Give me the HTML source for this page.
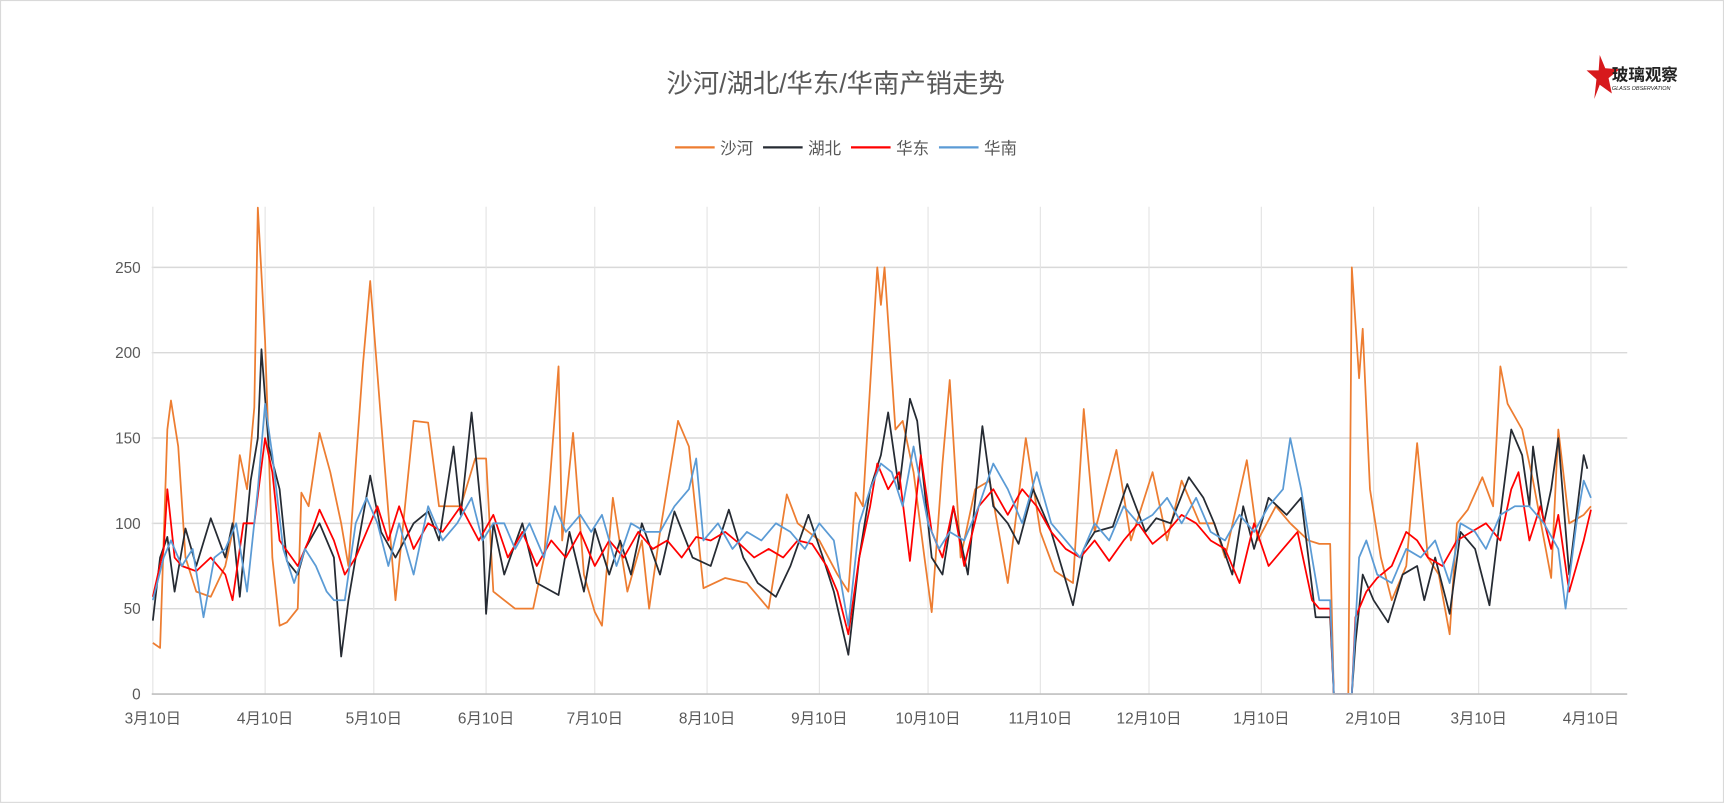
<!DOCTYPE html>
<html><head><meta charset="utf-8">
<style>
html,body{margin:0;padding:0;background:#fff;}
svg{display:block;}
text{font-family:"Liberation Sans","Noto Sans CJK SC",sans-serif;}
</style></head>
<body>
<svg id="chart" width="1724" height="804" viewBox="0 0 1568 731" preserveAspectRatio="none" xmlns="http://www.w3.org/2000/svg">
<rect x="0.5" y="0.5" width="1567" height="729" fill="#fff" stroke="#d9d9d9"/>
<text x="760" y="84" text-anchor="middle" font-size="24" fill="#595959">沙河/湖北/华东/华南产销走势</text>
<g>
<polygon points="1455,50 1460,62 1473,63 1463,71 1466,85 1455,77 1450,90 1452,72 1443,64 1454,64" fill="#d7191c"/>
<text x="1466" y="73" font-size="15" font-weight="bold" fill="#222">玻璃观察</text>
<text x="1466" y="82" font-size="5" font-style="italic" fill="#222">GLASS OBSERVATION</text>
</g>
<g id="legend"></g>
<g id="grid"></g>
<g id="series"></g>
<g id="axes"></g>
</svg>
<script>
const yTicks=[0,50,100,150,200,250];
const xTickLabels=['3月10日','4月10日','5月10日','6月10日','7月10日','8月10日','9月10日','10月10日','11月10日','12月10日','1月10日','2月10日','3月10日','4月10日'];
const xTickDays=[0,31,61,92,122,153,184,214,245,275,306,337,366,397];
const seriesNames=['沙河','湖北','华东','华南'];
const seriesColors=['#ed7d31','#262b33','#ff0000','#5b9bd5'];
const shaheDays=[0,2,4,5,7,9,12,16,20,22,24,26,28,29,31,33,35,37,40,41,43,46,49,52,54,58,60,63,66,67,72,76,79,85,89,92,94,97,100,105,108,112,113,116,119,122,124,127,131,135,137,140,145,148,152,158,164,170,175,178,184,189,192,194,196,200,201,202,205,207,210,213,215,218,220,223,227,231,236,241,245,249,254,257,260,266,270,276,280,284,289,293,296,302,305,310,314,319,322,325,326,330,331,333,334,336,339,342,346,349,352,355,358,360,363,367,370,372,374,378,381,386,388,391,395,397];
const shaheValues=[30,27,155,172,145,80,60,57,75,95,140,120,168,285,207,80,40,42,50,118,110,153,130,100,75,193,242,160,80,55,160,159,110,110,138,138,60,55,50,50,80,192,90,153,70,48,40,115,60,90,50,95,160,145,62,68,65,50,117,100,90,70,60,118,110,250,228,250,155,160,130,80,48,135,184,80,120,125,65,150,95,72,65,167,95,143,90,130,90,125,100,100,80,137,90,110,100,90,88,88,0,0,250,185,214,120,80,55,75,147,80,70,35,100,108,127,110,192,170,155,125,68,155,100,105,110];
const hubeiDays=[0,2,4,6,9,12,16,20,22,24,27,29,30,32,35,37,40,42,46,50,52,54,56,60,63,67,72,76,79,83,85,88,91,92,94,97,102,106,112,115,119,122,126,129,132,135,140,144,149,154,159,163,167,172,176,181,185,188,192,195,198,201,203,206,209,211,215,218,221,225,229,232,236,239,243,248,254,257,260,265,269,274,277,281,286,290,293,298,301,304,308,313,317,319,321,325,326,331,332,334,337,341,345,349,351,354,358,361,365,369,372,375,378,380,381,384,386,388,391,395,396];
const hubeiValues=[43,80,92,60,97,75,103,80,100,57,125,150,202,145,120,78,70,85,100,80,22,55,80,128,95,80,100,107,90,145,105,165,100,47,100,70,100,65,58,95,60,97,70,90,70,100,70,107,80,75,108,80,65,57,75,105,80,60,23,80,120,140,165,120,173,160,80,70,110,70,157,110,100,88,120,95,52,85,95,98,123,95,103,100,127,115,100,70,110,85,115,105,115,80,45,45,0,0,30,70,55,42,70,75,55,80,47,95,85,52,105,155,140,110,145,100,120,150,70,140,132];
const huadongDays=[0,3,4,6,8,12,16,20,22,25,28,31,33,35,40,43,46,50,53,56,60,62,65,68,72,76,80,85,90,94,98,102,106,110,114,118,122,126,130,134,138,142,146,150,154,158,162,166,170,174,178,182,186,189,192,195,198,200,203,206,209,212,215,218,221,224,228,232,236,240,244,248,252,256,260,264,268,272,276,280,284,288,292,296,300,304,308,312,316,320,322,325,326,331,332,335,338,342,346,349,352,356,360,364,368,372,375,377,380,383,386,388,391,395,397];
const huadongValues=[57,85,120,80,75,72,80,70,55,100,100,150,130,90,75,90,108,90,70,80,100,110,90,110,85,100,95,110,90,105,80,95,75,90,80,95,75,90,80,95,85,90,80,92,90,95,88,80,85,80,90,88,75,60,35,80,110,135,120,130,78,140,95,80,110,75,110,120,105,120,110,95,85,80,90,78,90,100,88,95,105,100,90,85,65,100,75,85,95,55,50,50,0,0,45,60,68,75,95,90,80,75,90,95,100,90,120,130,90,110,85,105,60,90,108];
const huananDays=[0,3,5,8,11,14,17,20,23,26,29,31,33,36,39,42,45,48,50,53,56,59,62,65,68,72,76,80,84,88,91,94,97,100,104,108,111,114,118,121,124,128,132,136,140,144,148,150,152,156,160,164,168,172,176,180,184,188,192,195,198,201,204,207,210,214,217,220,224,228,232,236,240,244,248,252,256,260,264,268,272,276,280,284,288,292,296,300,304,308,312,314,317,320,322,325,326,331,333,335,338,342,346,350,354,358,361,365,368,372,376,380,384,388,390,393,395,397];
const huananValues=[55,80,90,75,85,45,80,85,100,60,120,170,140,85,65,85,75,60,55,55,100,115,100,75,100,70,110,90,100,115,90,100,100,85,100,80,110,95,105,95,105,75,100,95,95,110,120,138,90,100,85,95,90,100,95,85,100,90,40,100,120,135,130,110,145,100,85,95,90,110,135,120,100,130,100,90,80,100,90,110,100,105,115,100,115,95,90,105,95,110,120,150,120,80,55,55,0,0,80,90,70,65,85,80,90,65,100,95,85,105,110,110,100,85,50,100,125,115];

const NS='http://www.w3.org/2000/svg';
const L=138,R=1480,T=188,B=631,YMAX=285.5,DAYS=397,X0=139,X1=1447;
const xs=d=>X0+(X1-X0)*d/DAYS;
const ys=v=>B-(B-T)*v/YMAX;
function mk(tag,attrs,parent){const e=document.createElementNS(NS,tag);for(const k in attrs)e.setAttribute(k,attrs[k]);parent.appendChild(e);return e;}
const grid=document.getElementById('grid'),axes=document.getElementById('axes'),ser=document.getElementById('series'),leg=document.getElementById('legend');
yTicks.forEach(v=>{
  if(v>0){const g=mk('line',{x1:L,x2:R,y1:ys(v),y2:ys(v),stroke:'#d9d9d9','stroke-width':1.3},grid);
  
  }
  const t=mk('text',{x:L-10,y:ys(v)+5,'text-anchor':'end','font-size':14,fill:'#595959'},axes);
  t.textContent=v;
  
  
});
xTickDays.forEach((d,i)=>{
  const g=mk('line',{x1:xs(d),x2:xs(d),y1:T,y2:B,stroke:'#e3e3e3','stroke-width':1},grid);
  
  
  const t=mk('text',{x:xs(d),y:B+27,'text-anchor':'middle','font-size':14,fill:'#595959'},axes);
  t.textContent=xTickLabels[i];
  
  
});
const ax=mk('line',{x1:L,x2:R,y1:B,y2:B,stroke:'#bfbfbf','stroke-width':1.5},axes);


const data=[[shaheDays,shaheValues],[hubeiDays,hubeiValues],[huadongDays,huadongValues],[huananDays,huananValues]];
const keys=['shahe','hubei','huadong','huanan'];
data.forEach((s,i)=>{
  const pts=s[0].map((d,j)=>xs(d).toFixed(1)+','+ys(s[1][j]).toFixed(1)).join(' ');
  const p=mk('polyline',{points:pts,fill:'none',stroke:seriesColors[i],'stroke-width':1.6,'stroke-linejoin':'round'},ser);
  
  
});
const lx=[614,694,774,854];
seriesNames.forEach((n,i)=>{
  const g=mk('g',{},leg);
  
  
  mk('line',{x1:lx[i],x2:lx[i]+36,y1:134,y2:134,stroke:seriesColors[i],'stroke-width':2},g);
  const t=mk('text',{x:lx[i]+41,y:140,'font-size':15,fill:'#595959'},g);
  t.textContent=n;
});
</script>
</body></html>
